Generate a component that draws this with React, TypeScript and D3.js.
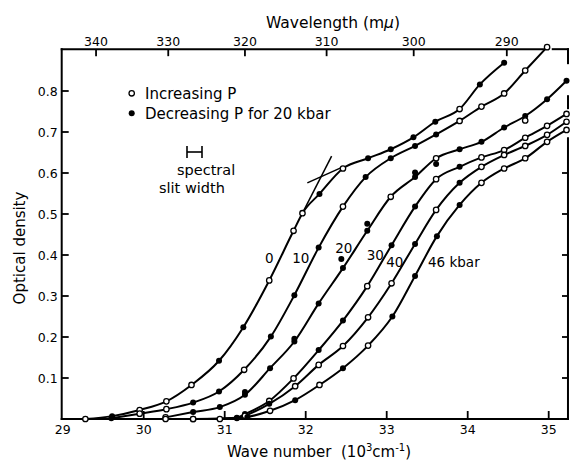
import React from 'react';
import * as d3 from 'd3';

// [wavenumber (10^3 cm^-1), optical density, 1 = reading taken on decreasing pressure]
type Pt = [number, number, number];

const wavenumberTicks = [30, 31, 32, 33, 34, 35];
const wavenumberLabels = [29, 30, 31, 32, 33, 34, 35];
const densityTicks = [0.1, 0.2, 0.3, 0.4, 0.5, 0.6, 0.7, 0.8];
const wavelengthTicks = [340, 330, 320, 310, 300, 290];

const pressureLabels = ['0', '10', '20', '30', '40', '46 kbar'];

const curve0: Pt[] = [
  [29.28, 0.0, 0], [29.61, 0.007, 1], [29.95, 0.022, 0], [30.28, 0.043, 0],
  [30.59, 0.083, 0], [30.93, 0.142, 1], [31.23, 0.224, 1], [31.55, 0.338, 0],
  [31.85, 0.459, 0], [31.96, 0.502, 0], [32.17, 0.549, 1], [32.46, 0.611, 0],
  [32.77, 0.636, 1], [33.05, 0.658, 1], [33.33, 0.687, 1], [33.6, 0.725, 1],
  [33.9, 0.756, 0], [34.15, 0.816, 1], [34.45, 0.869, 1],
];

const curve10: Pt[] = [
  [29.6, 0.002, 1], [29.95, 0.013, 0], [30.28, 0.024, 0], [30.61, 0.04, 1],
  [30.93, 0.067, 1], [31.24, 0.12, 0], [31.57, 0.201, 1], [31.86, 0.302, 1],
  [32.16, 0.418, 1], [32.46, 0.518, 0], [32.74, 0.59, 1], [33.05, 0.636, 1],
  [33.35, 0.666, 1], [33.61, 0.694, 1], [33.9, 0.727, 0], [34.17, 0.762, 0],
  [34.45, 0.794, 0], [34.71, 0.85, 0], [34.98, 0.907, 0],
];

const curve20: Pt[] = [
  [30.27, 0.004, 0], [30.61, 0.017, 1], [30.94, 0.029, 1], [31.25, 0.059, 1],
  [31.56, 0.124, 1], [31.86, 0.189, 1], [32.16, 0.282, 1], [32.46, 0.368, 1],
  [32.76, 0.459, 1], [33.05, 0.542, 0], [33.35, 0.59, 1], [33.61, 0.636, 0],
  [33.9, 0.658, 1], [34.17, 0.676, 1], [34.45, 0.711, 1], [34.71, 0.739, 1],
  [34.98, 0.78, 1], [35.22, 0.825, 1],
];

const curve30: Pt[] = [
  [30.27, 0.0, 0], [30.61, 0.0, 0], [31.15, 0.003, 1], [31.25, 0.012, 1],
  [31.55, 0.044, 0], [31.85, 0.099, 0], [32.16, 0.168, 1], [32.46, 0.24, 1],
  [32.76, 0.324, 0], [33.06, 0.424, 1], [33.35, 0.518, 1], [33.61, 0.585, 0],
  [33.9, 0.615, 1], [34.17, 0.638, 0], [34.45, 0.656, 0], [34.71, 0.686, 0],
  [34.98, 0.715, 0], [35.22, 0.744, 0],
];

const curve40: Pt[] = [
  [30.61, 0.0, 0], [31.15, 0.002, 1], [31.25, 0.008, 0], [31.55, 0.037, 1],
  [31.87, 0.08, 0], [32.16, 0.132, 0], [32.46, 0.178, 0], [32.77, 0.248, 0],
  [33.06, 0.331, 0], [33.35, 0.427, 1], [33.61, 0.51, 0], [33.9, 0.576, 1],
  [34.17, 0.615, 0], [34.45, 0.644, 0], [34.71, 0.666, 0], [34.98, 0.693, 0],
  [35.22, 0.725, 0],
];

const curve46: Pt[] = [
  [30.94, 0.0, 0], [31.28, 0.005, 1], [31.56, 0.02, 0], [31.87, 0.046, 1],
  [32.17, 0.083, 0], [32.46, 0.124, 1], [32.77, 0.179, 0], [33.07, 0.25, 1],
  [33.35, 0.349, 1], [33.62, 0.446, 1], [33.9, 0.522, 1], [34.17, 0.576, 0],
  [34.45, 0.611, 0], [34.71, 0.636, 0], [34.98, 0.676, 0], [35.22, 0.705, 0],
];

// stray readings near the 20 kbar curve
const extraPoints: Pt[] = [
  [31.25, 0.066, 1], [31.86, 0.196, 1], [32.44, 0.39, 1], [32.76, 0.476, 1],
  [33.35, 0.601, 1], [33.61, 0.622, 1], [34.71, 0.728, 0],
];

// tangents drawn at the knee of the 0 kbar curve
const steepTangent: [number, number][] = [[31.96, 0.502], [32.32, 0.641]];
const shallowTangent: [number, number][] = [[32.02, 0.576], [32.46, 0.615]];

const curves = [curve0, curve10, curve20, curve30, curve40, curve46];

const FONT = '"DejaVu Sans", Verdana, sans-serif';

export default function App() {
  const W = 571;
  const H = 463;
  const x = d3.scaleLinear().domain([29, 35]).range([62.7, 548.7]);
  const y = d3.scaleLinear().domain([0, 0.8]).range([419, 91]);

  const left = x(29) - 1;
  const right = x(35.238);
  const top = y(0.902);
  const bottom = y(0);

  const line = d3
    .line<Pt>()
    .x((d) => x(d[0]))
    .y((d) => y(d[1]))
    .curve(d3.curveMonotoneX);

  const seg = d3
    .line<[number, number]>()
    .x((d) => x(d[0]))
    .y((d) => y(d[1]));

  // label anchors in data units
  const labelAt: [number, number, string][] = [
    [31.55, 0.392, 'middle'],
    [31.94, 0.392, 'middle'],
    [32.47, 0.416, 'middle'],
    [32.86, 0.4, 'middle'],
    [33.1, 0.384, 'middle'],
    [33.51, 0.384, 'start'],
  ];

  const marker = (p: Pt, key: string) =>
    p[2] ? (
      <circle key={key} cx={x(p[0])} cy={y(p[1])} r={3} fill="#000" />
    ) : (
      <circle key={key} cx={x(p[0])} cy={y(p[1])} r={2.7} fill="#fff" stroke="#000" strokeWidth={1.3} />
    );

  const sw = 2;

  return (
    <svg
      width={W}
      height={H}
      viewBox={`0 0 ${W} ${H}`}
      style={{ position: 'absolute', left: 0, top: 0, background: '#fff' }}
      fontFamily={FONT}
    >
      <rect x={0} y={0} width={W} height={H} fill="#fff" />

      {/* frame */}
      <g stroke="#000" strokeWidth={2} fill="none" strokeLinecap="square">
        <line x1={left} y1={top} x2={left} y2={bottom} />
        <line x1={left} y1={bottom} x2={right} y2={bottom} />
        <line x1={left} y1={top} x2={x(34.94)} y2={top} />
        <line x1={x(35.05)} y1={top} x2={right} y2={top} />
        <line x1={right} y1={top} x2={right} y2={top + 14} />
        <line x1={right} y1={top + 47} x2={right} y2={top + 59} />
        <line x1={right} y1={top + 89} x2={right} y2={bottom} />
      </g>

      {/* ticks */}
      <g stroke="#000" strokeWidth={1.8}>
        {densityTicks.map((t) => (
          <line key={'l' + t} x1={left} x2={left + 7} y1={y(t)} y2={y(t)} />
        ))}
        {densityTicks
          .filter((t) => y(t) > top + 89)
          .map((t) => (
            <line key={'r' + t} x1={right - 6} x2={right} y1={y(t)} y2={y(t)} />
          ))}
        {wavenumberTicks.map((t) => (
          <line key={'b' + t} x1={x(t)} x2={x(t)} y1={bottom} y2={bottom - 8} />
        ))}
        {wavelengthTicks.map((t) => (
          <line key={'t' + t} x1={x(1e4 / t)} x2={x(1e4 / t)} y1={top} y2={top + 7} />
        ))}
      </g>

      {/* tick labels */}
      <g fontSize={12.5} fill="#000">
        {densityTicks.map((t) => (
          <text key={'yl' + t} x={left - 4} y={y(t)} textAnchor="end" dominantBaseline="central">
            {t.toFixed(1)}
          </text>
        ))}
        {wavenumberLabels.map((t) => (
          <text key={'xl' + t} x={x(t)} y={434} textAnchor="middle">
            {t}
          </text>
        ))}
        {wavelengthTicks.map((t) => (
          <text key={'wl' + t} x={x(1e4 / t)} y={45.5} textAnchor="middle">
            {t}
          </text>
        ))}
      </g>

      {/* axis titles */}
      <text x={333} y={27.5} textAnchor="middle" fontSize={15.5}>
        Wavelength (m<tspan fontStyle="italic">μ</tspan>)
      </text>
      <text x={319} y={457} textAnchor="middle" fontSize={15}>
        Wave number{'\u00a0\u00a0'}(10
        <tspan dy={-6} fontSize={10}>3</tspan>
        <tspan dy={6}>cm</tspan>
        <tspan dy={-6} fontSize={10}>-1</tspan>
        <tspan dy={6}>)</tspan>
      </text>
      <text
        transform={`translate(25, 248) rotate(-90)`}
        textAnchor="middle"
        fontSize={15}
      >
        Optical density
      </text>

      {/* legend */}
      <circle cx={131.7} cy={93.3} r={2.7} fill="#fff" stroke="#000" strokeWidth={1.3} />
      <text x={145} y={99} fontSize={15}>Increasing P</text>
      <circle cx={131.7} cy={113.3} r={3} fill="#000" />
      <text x={145} y={119} fontSize={15}>Decreasing P for 20 kbar</text>

      {/* spectral slit width */}
      <g stroke="#000" strokeWidth={1.6}>
        <line x1={187} x2={187} y1={146} y2={158} />
        <line x1={202} x2={202} y1={146} y2={158} />
        <line x1={187} x2={202} y1={152} y2={152} />
      </g>
      <text x={177} y={175} fontSize={14.5}>spectral</text>
      <text x={159} y={193} fontSize={14.5}>slit width</text>

      {/* tangents */}
      <path d={seg(steepTangent) || ''} stroke="#000" strokeWidth={1.5} fill="none" />
      <path d={seg(shallowTangent) || ''} stroke="#000" strokeWidth={1.5} fill="none" />

      {/* curves */}
      {curves.map((c, i) => (
        <path key={'c' + i} d={line(c) || ''} stroke="#000" strokeWidth={sw} fill="none" />
      ))}
      {curves.map((c, i) => c.map((p, j) => marker(p, `m${i}-${j}`)))}
      {extraPoints.map((p, j) => marker(p, `e${j}`))}

      {/* pressure labels */}
      {pressureLabels.map((lab, i) => (
        <text
          key={'pl' + i}
          x={x(labelAt[i][0])}
          y={y(labelAt[i][1])}
          textAnchor={labelAt[i][2] as any}
          dominantBaseline="central"
          fontSize={13.5}
        >
          {lab}
        </text>
      ))}
    </svg>
  );
}
